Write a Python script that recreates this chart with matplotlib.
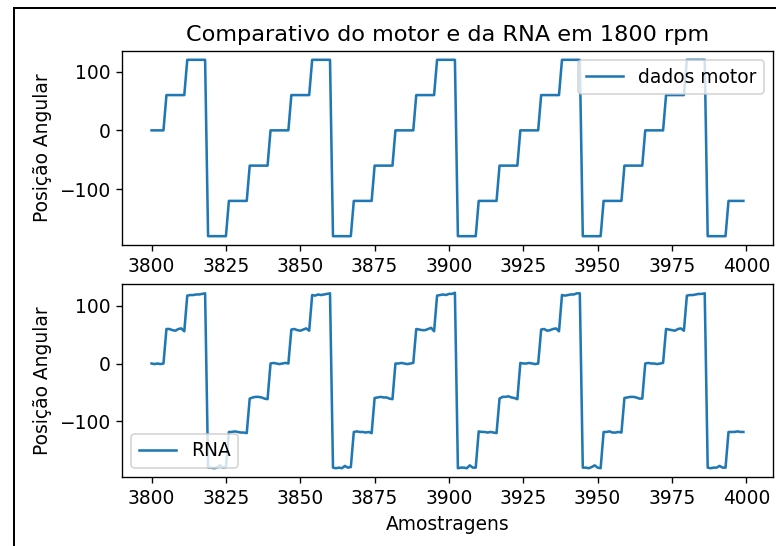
import numpy as np
from matplotlib import pyplot as plt
from matplotlib.lines import Line2D

# amostras
amostras = np.arange(3800, 4000)

# dados do motor: niveis e duracao de cada degrau (em amostras)
niveis_motor = [0,
                60, 120, -180, -120, -60, 0,
                60, 120, -180, -120, -60, 0,
                60, 120, -180, -120, -60, 0,
                60, 120, -180, -120, -60, 0,
                60, 120, -180, -120]
duracao_motor = [5] + [7] * 27 + [6]
motor = np.repeat(niveis_motor, duracao_motor)

# saida da RNA
rna = [0, -1, 0, -1, 0,
       60, 60, 58, 57, 60, 61, 56,
       118, 119, 119, 120, 120, 121, 122,
       -181, -181, -182, -181, -177, -181, -180,
       -119, -119, -118, -119, -120, -120, -121,
       -61, -59, -58, -58, -59, -61, -62,
       0, 1, 0, -1, 0, 1, 0,
       59, 60, 58, 57, 59, 61, 57,
       119, 118, 120, 119, 120, 121, 122,
       -181, -182, -181, -182, -178, -181, -180,
       -119, -118, -119, -119, -120, -119, -121,
       -60, -59, -58, -59, -59, -61, -62,
       0, 0, 1, 0, -1, 0, 1,
       60, 59, 58, 58, 60, 62, 56,
       118, 119, 120, 119, 121, 121, 123,
       -182, -181, -181, -182, -177, -181, -181,
       -118, -119, -119, -120, -119, -120, -121,
       -61, -58, -58, -57, -59, -60, -62,
       1, 0, 0, 1, 0, -1, 0,
       59, 60, 57, 58, 60, 61, 56,
       119, 118, 119, 120, 120, 122, 122,
       -181, -181, -182, -180, -177, -181, -182,
       -119, -119, -118, -120, -120, -119, -120,
       -60, -59, -58, -58, -59, -61, -61,
       0, 1, 0, 0, -1, 0, 1,
       60, 59, 58, 57, 60, 61, 57,
       118, 119, 119, 120, 121, 121, 122,
       -181, -182, -181, -181, -178, -181, -181,
       -119, -119, -119, -118, -119, -119]

plt.rcParams['font.size'] = 11

DPI = 122
fig = plt.figure(figsize=(776 / DPI, 546 / DPI), dpi=DPI)

ax1 = fig.add_axes([0.1572, 0.5513, 0.8389, 0.3553])
ax1.plot(amostras, motor, label='dados motor')
ax1.set_title('Comparativo do motor e da RNA em 1800 rpm')
ax1.set_ylabel('Posição Angular')
ax1.legend(loc='upper right')

ax2 = fig.add_axes([0.1572, 0.1264, 0.8389, 0.3535])
ax2.plot(amostras, rna, label='RNA')
ax2.set_ylabel('Posição Angular')
ax2.set_xlabel('Amostragens')
ax2.legend(loc='lower left')

for ax in (ax1, ax2):
    ax.set_xticks(np.arange(3800, 4001, 25))

# moldura da figura no documento
x0 = 13.5 / 776
y0 = 1 - 7.5 / 546
lw = 2 * 72 / DPI
fig.add_artist(Line2D([x0, x0], [0, y0], transform=fig.transFigure, color='black', lw=lw))
fig.add_artist(Line2D([x0, 1], [y0, y0], transform=fig.transFigure, color='black', lw=lw))

fig.savefig('out.png', dpi=DPI)
